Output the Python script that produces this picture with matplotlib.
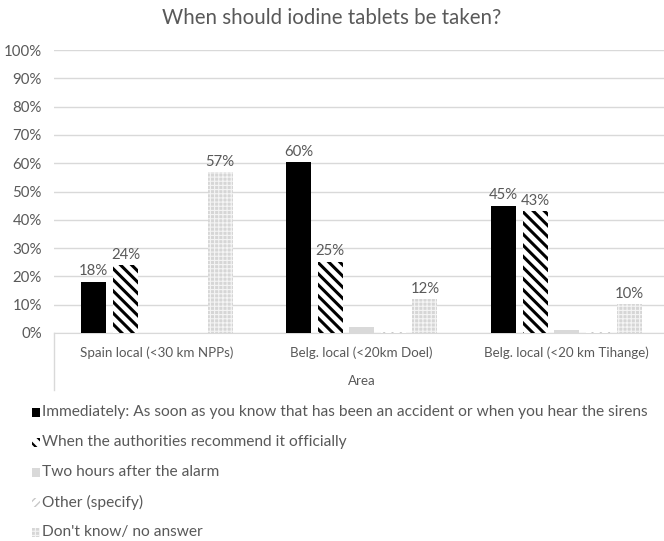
import numpy as np
import matplotlib.pyplot as plt
from matplotlib.patches import Rectangle
from matplotlib.lines import Line2D

categories = ['Spain local (<30 km NPPs)', 'Belg. local (<20km Doel)',
              'Belg. local (<20 km Tihange)']
series_names = ['Immediately: As soon as you know that has been an accident or when you hear the sirens',
                'When the authorities recommend it officially',
                'Two hours after the alarm',
                'Other (specify)',
                "Don't know/ no answer"]
immediately = [18.1, 60.4, 45.0]
authorities = [24.0, 25.2, 43.0]
two_hours = [0.0, 2.0, 1.2]
other = [0.0, 0.5, 0.5]
dont_know = [56.8, 12.0, 10.2]
labelled = [[True, True, True], [True, True, True], [False] * 3,
            [False] * 3, [True, True, True]]

plt.rcParams['font.family'] = ['Lato', 'DejaVu Sans']
grey = '#595959'

fig = plt.figure(figsize=(6.64, 5.41), dpi=100)
ax = fig.add_axes([54.5 / 664, 208 / 541, 614.5 / 664, 283 / 541])

styles = [
    dict(facecolor='black', hatch=None, edgecolor='black', hlw=1.0),
    dict(facecolor='white', hatch='\\\\\\', edgecolor='black', hlw=2.2),
    dict(facecolor='#d9d9d9', hatch=None, edgecolor='#d9d9d9', hlw=1.0),
    dict(facecolor='white', hatch='////', edgecolor='#c8c8c8', hlw=1.0),
    dict(facecolor='#d6d6d6', hatch='++++', edgecolor='#f4f4f4', hlw=0.8),
]
data = [immediately, authorities, two_hours, other, dont_know]

x = np.arange(len(categories))
step = 0.154
width = 0.122
for i, (vals, st) in enumerate(zip(data, styles)):
    plt.rcParams['hatch.linewidth'] = st['hlw']
    pos = x + (i - 2) * step
    bars = ax.bar(pos, vals, width, color=st['facecolor'], hatch=st['hatch'],
                  edgecolor=st['edgecolor'], linewidth=0, zorder=3)
    for b in bars:
        if hasattr(b, 'set_hatch_linewidth'):
            b.set_hatch_linewidth(st['hlw'])
    for p, v, lab in zip(pos, vals, labelled[i]):
        if lab:
            ax.text(p, v + 1.2, f'{round(v):.0f}%', ha='center', va='bottom',
                    fontsize=10.7, color=grey, zorder=4)

ax.set_ylim(0, 100)
ax.set_xlim(-0.5, 2.5)
ax.set_yticks(np.arange(0, 101, 10))
ax.set_yticklabels([f'{v}%' for v in range(0, 101, 10)])
ax.tick_params(axis='y', length=0, labelsize=10.8, labelcolor=grey, pad=9)
ax.set_xticks(x)
ax.set_xticklabels(categories)
ax.tick_params(axis='x', length=0, labelsize=9.6, labelcolor=grey, pad=10)
ax.grid(axis='y', color='#d9d9d9', linewidth=1, zorder=0)
for s in ['top', 'right', 'left']:
    ax.spines[s].set_visible(False)
ax.spines['bottom'].set_color('#d9d9d9')
ax.set_xlabel('Area', fontsize=9.6, color=grey, labelpad=11)

# left edge of the category axis box
fig.add_artist(Line2D([54.5 / 664, 54.5 / 664], [208 / 541, 151 / 541],
                      color='#d9d9d9', linewidth=1))

fig.text(0.5, 1 - 18 / 541, 'When should iodine tablets be taken?',
         ha='center', va='center', fontsize=14.8, color=grey)

# legend, one row per series
for i, (name, st) in enumerate(zip(series_names, styles)):
    ypix = 412 + 30 * i
    plt.rcParams['hatch.linewidth'] = min(st['hlw'], 1.6)
    r = Rectangle((32 / 664, 1 - (ypix + 4.5) / 541), 8 / 664, 9 / 541,
                  facecolor=st['facecolor'], hatch=st['hatch'],
                  edgecolor=st['edgecolor'], linewidth=0,
                  transform=fig.transFigure)
    if hasattr(r, 'set_hatch_linewidth'):
        r.set_hatch_linewidth(min(st['hlw'], 1.6))
    fig.add_artist(r)
    fig.text(42 / 664, 1 - ypix / 541, name, ha='left', va='center',
             fontsize=11.2, color=grey)

fig.savefig('out.png', dpi=100)
